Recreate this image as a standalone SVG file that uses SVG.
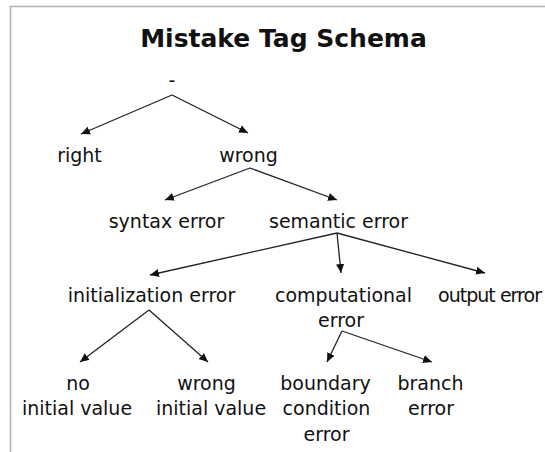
<svg xmlns="http://www.w3.org/2000/svg" width="545" height="452" viewBox="0 0 545 452">
<defs>
<marker id="ah" viewBox="0 0 10 10" refX="10" refY="5" markerWidth="9" markerHeight="9" markerUnits="userSpaceOnUse" orient="auto">
<path d="M0,0.5 L10,5 L0,9.5 Z" fill="#111"/>
</marker>
</defs>
<style>
text{font-family:"DejaVu Sans",Verdana,sans-serif;font-size:19px;fill:#111;text-anchor:middle}
.title{font-weight:bold;font-size:25px}
.edge{stroke:#222;stroke-width:1.3;fill:none;marker-end:url(#ah)}
</style>
<rect width="545" height="452" fill="#fff"/>
<path d="M10.5,452 V6.5 H545" stroke="#b0b0b0" stroke-width="1.5" fill="none"/>
<text class="title" x="283.5" y="47">Mistake Tag Schema</text>
<g id="connectors">
<line class="edge" x1="172" y1="95" x2="81" y2="134"/>
<line class="edge" x1="172" y1="95" x2="248" y2="133"/>
<line class="edge" x1="250" y1="168" x2="165" y2="200"/>
<line class="edge" x1="250" y1="168" x2="337" y2="200"/>
<line class="edge" x1="337" y1="233" x2="150" y2="275"/>
<line class="edge" x1="337" y1="233" x2="341" y2="273"/>
<line class="edge" x1="337" y1="233" x2="485" y2="273"/>
<line class="edge" x1="149" y1="310" x2="80" y2="362"/>
<line class="edge" x1="149" y1="310" x2="208" y2="362"/>
<line class="edge" x1="342" y1="331" x2="327" y2="362"/>
<line class="edge" x1="342" y1="331" x2="432" y2="362"/>
</g>
<g id="root"><text x="172" y="87">-</text></g>
<g id="right"><text x="79.5" y="162">right</text></g>
<g id="wrong"><text x="248.5" y="162">wrong</text></g>
<g id="syntax"><text x="166.5" y="228">syntax error</text></g>
<g id="semantic"><text x="338.5" y="228">semantic error</text></g>
<g id="initialization"><text x="151.5" y="302">initialization error</text></g>
<g id="computational"><text x="343.5" y="302">computational</text><text x="341" y="327">error</text></g>
<g id="output"><text x="490" y="302" textLength="104" lengthAdjust="spacing">output error</text></g>
<g id="noinit"><text x="78" y="390">no</text><text x="77" y="415">initial value</text></g>
<g id="wronginit"><text x="206.5" y="390">wrong</text><text x="211" y="415">initial value</text></g>
<g id="boundary"><text x="325.5" y="390">boundary</text><text x="326.5" y="415">condition</text><text x="326.5" y="441">error</text></g>
<g id="branch"><text x="430.5" y="390">branch</text><text x="431" y="415">error</text></g>
</svg>
